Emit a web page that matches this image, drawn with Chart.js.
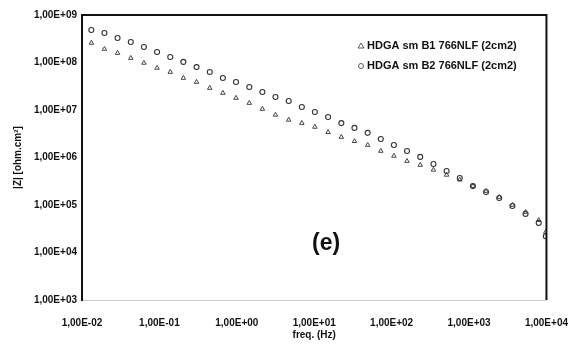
<!DOCTYPE html>
<html>
<head>
<meta charset="utf-8">
<script src="https://cdn.jsdelivr.net/npm/chart.js@4/dist/chart.umd.min.js"></script>
<style>
  html, body { margin: 0; padding: 0; background: #fff; }
  #wrap { width: 585px; height: 345px; }
</style>
</head>
<body>
<div id="wrap"><canvas id="zChart"></canvas></div>
<script>
// frequencies (Hz) of the measured points
const freqs = [0.0132, 0.0195, 0.0288, 0.0427, 0.0631, 0.0933, 0.138, 0.204, 0.302, 0.447,
  0.661, 0.977, 1.45, 2.14, 3.16, 4.68, 6.92, 10.2, 15.1, 22.4,
  33.1, 49.0, 72.4, 107, 158, 234, 347, 513, 759, 1122,
  1660, 2455, 3631, 5370, 7943, 9800];

// |Z| of sample B1 (triangles)
const zB1 = [2.58e8, 1.92e8, 1.58e8, 1.24e8, 9.8e7, 7.7e7, 6.3e7, 4.72e7, 3.88e7, 2.9e7,
  2.28e7, 1.79e7, 1.40e7, 1.05e7, 7.9e6, 6.2e6, 5.3e6, 4.4e6, 3.4e6, 2.7e6,
  2.2e6, 1.83e6, 1.37e6, 1.08e6, 8.4e5, 6.95e5, 5.5e5, 4.3e5, 3.4e5, 2.5e5,
  1.97e5, 1.47e5, 1.0e5, 7.1e4, 4.8e4, 2.7e4];

// |Z| of sample B2 (circles)
const zB2 = [4.83e8, 4.18e8, 3.28e8, 2.70e8, 2.12e8, 1.66e8, 1.31e8, 1.03e8, 8.0e7, 6.3e7,
  4.72e7, 3.88e7, 3.05e7, 2.39e7, 1.88e7, 1.55e7, 1.16e7, 9.1e6, 7.1e6, 5.3e6,
  4.2e6, 3.3e6, 2.45e6, 1.83e6, 1.37e6, 1.03e6, 7.3e5, 5.2e5, 3.7e5, 2.5e5,
  1.88e5, 1.40e5, 9.5e4, 6.5e4, 4.2e4, 2.2e4];

const seriesLabels = ['HDGA sm B1 766NLF (2cm2)', 'HDGA sm B2 766NLF (2cm2)'];

const xTicks = [0.01, 0.1, 1, 10, 100, 1000, 10000];
const xTickLabels = ['1,00E-02', '1,00E-01', '1,00E+00', '1,00E+01', '1,00E+02', '1,00E+03', '1,00E+04'];
const yTicks = [1e3, 1e4, 1e5, 1e6, 1e7, 1e8, 1e9];
const yTickLabels = ['1,00E+03', '1,00E+04', '1,00E+05', '1,00E+06', '1,00E+07', '1,00E+08', '1,00E+09'];

const FONT = '"Liberation Sans", Arial, sans-serif';

const toPoints = (xs, ys) => xs.map((x, i) => ({ x: x, y: ys[i] }));

// frame (top/right dark, bottom light), the "(e)" mark and the inner legend
const decorPlugin = {
  id: 'decor',
  afterDraw(chart) {
    const { ctx, chartArea: a } = chart;
    ctx.save();
    ctx.strokeStyle = '#111';
    ctx.lineWidth = 2;
    ctx.beginPath();
    ctx.moveTo(a.left, a.top);
    ctx.lineTo(a.right, a.top);
    ctx.lineTo(a.right, a.bottom);
    ctx.stroke();

    ctx.fillStyle = '#111';
    ctx.font = 'bold 23px ' + FONT;
    ctx.textAlign = 'left';
    ctx.textBaseline = 'middle';
    ctx.fillText('(e)', 312, 244);

    // legend
    ctx.font = 'bold 11px ' + FONT;
    ctx.lineWidth = 0.8;
    ctx.strokeStyle = '#333';
    const lx = 361, ly = [46, 66];
    // triangle
    ctx.beginPath();
    ctx.moveTo(lx, ly[0] - 3);
    ctx.lineTo(lx + 3, ly[0] + 2);
    ctx.lineTo(lx - 3, ly[0] + 2);
    ctx.closePath();
    ctx.stroke();
    // circle
    ctx.beginPath();
    ctx.arc(lx, ly[1], 2.5, 0, Math.PI * 2);
    ctx.stroke();
    ctx.fillText(chart.data.datasets[0].label, lx + 6, ly[0]);
    ctx.fillText(chart.data.datasets[1].label, lx + 6, ly[1]);
    ctx.restore();
  }
};

const renderChart = () => {
  const ctx = document.getElementById('zChart').getContext('2d');
  new Chart(ctx, {
    type: 'scatter',
    data: {
      datasets: [{
        label: seriesLabels[0],
        data: toPoints(freqs, zB1),
        pointStyle: 'triangle',
        pointRadius: 2.6,
        borderColor: '#444',
        backgroundColor: 'rgba(0,0,0,0)',
        borderWidth: 1,
      }, {
        label: seriesLabels[1],
        data: toPoints(freqs, zB2),
        pointStyle: 'circle',
        pointRadius: 2.5,
        borderColor: '#333',
        backgroundColor: 'rgba(0,0,0,0)',
        borderWidth: 1.1,
      }],
    },
    options: {
      responsive: true,
      maintainAspectRatio: false,
      animation: false,
      layout: { padding: { top: 15, right: 38, left: 0, bottom: 0 } },
      plugins: {
        legend: { display: false },
        tooltip: { enabled: false },
      },
      scales: {
        x: {
          type: 'logarithmic',
          min: 0.01,
          max: 10000,
          afterBuildTicks: (axis) => { axis.ticks = xTicks.map(v => ({ value: v })); },
          afterFit: (axis) => { axis.height = 45; },
          grid: { display: false, drawTicks: false },
          border: { color: '#ccc', width: 1 },
          ticks: {
            color: '#111',
            font: { family: FONT, size: 10, weight: 'bold' },
            padding: 17,
            maxRotation: 0,
            autoSkip: false,
            callback: (v) => xTickLabels[xTicks.indexOf(v)],
          },
          title: {
            display: true,
            text: 'freq. (Hz)',
            color: '#111',
            font: { family: FONT, size: 10, weight: 'bold' },
            padding: { top: 0 },
          },
        },
        y: {
          type: 'logarithmic',
          min: 1e3,
          max: 1e9,
          afterBuildTicks: (axis) => { axis.ticks = yTicks.map(v => ({ value: v })); },
          afterFit: (axis) => { axis.width = 82; },
          grid: { display: false, drawOnChartArea: false, tickLength: 3, color: '#111' },
          border: { color: '#111', width: 2 },
          ticks: {
            color: '#111',
            font: { family: FONT, size: 10, weight: 'bold' },
            padding: 2,
            autoSkip: false,
            callback: (v) => yTickLabels[yTicks.indexOf(v)],
          },
          title: {
            display: true,
            text: '|Z| [ohm.cm\u00B2]',
            color: '#111',
            font: { family: FONT, size: 10, weight: 'bold' },
            padding: { top: 12, bottom: 0 },
          },
        },
      },
    },
    plugins: [decorPlugin],
  });
};

renderChart();
</script>
</body>
</html>
